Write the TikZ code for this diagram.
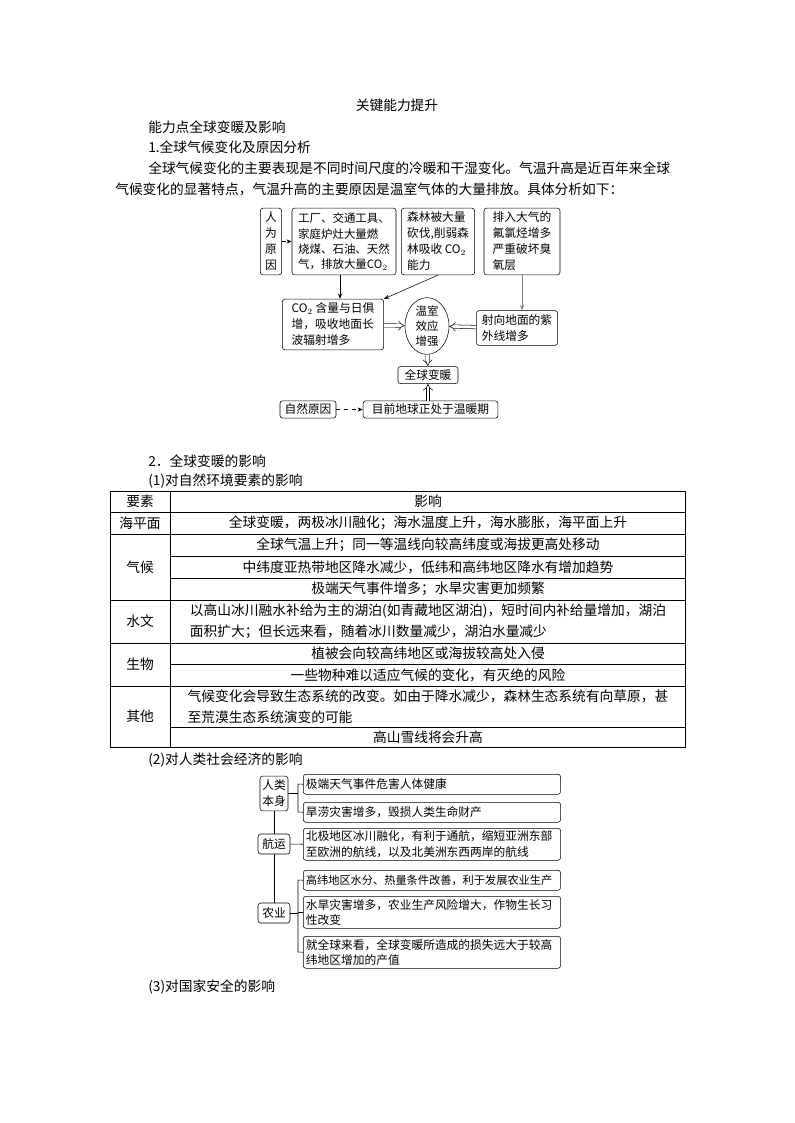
\documentclass[tikz,border=0pt]{standalone}
\usepackage{fontspec}
\setmainfont{Noto Sans CJK SC}
\usetikzlibrary{arrows.meta,shapes.geometric}
\begin{document}
\begin{tikzpicture}[x=0.75pt,y=-0.75pt,
 txt/.style={inner sep=0pt,font=\fontsize{10.3}{15}\selectfont},
 bx/.style={draw,rounded corners=2pt,inner sep=2pt,font=\fontsize{8.8}{12}\selectfont,align=left},
 sb/.style={draw,rounded corners=2pt,inner sep=2pt,font=\fontsize{8.8}{11.5}\selectfont,align=left,text width=189pt,anchor=north west},
 cell/.style={inner sep=0pt,font=\fontsize{10.3}{16}\selectfont,align=center},
 dbl/.style={double,double distance=2.2pt,-{Implies},thin},
 ar/.style={-{Stealth[length=4pt]},thin}]
\useasboundingbox (0,0) rectangle (794,1123);
\node[txt] (t0) at (397,105) {关键能力提升};
\node[txt,anchor=west] (t1) at (148,127) {能力点全球变暖及影响};
\node[txt,anchor=west] (t2) at (148,147) {1.全球气候变化及原因分析};
\node[txt,anchor=west] (t3) at (148,168) {全球气候变化的主要表现是不同时间尺度的冷暖和干湿变化。气温升高是近百年来全球};
\node[txt,anchor=west] (t4) at (115,189) {气候变化的显著特点，气温升高的主要原因是温室气体的大量排放。具体分析如下：};
% flowchart
\node[bx,minimum width=16pt,minimum height=50pt,align=center,inner sep=1pt] (rw) at (271,241.5) {人\\为\\原\\因};
\node[bx,minimum width=78pt,minimum height=50pt,font=\fontsize{8.6}{11.5}\selectfont] (gc) at (344,241.5) {工厂、交通工具、\\家庭炉灶大量燃\\烧煤、石油、天然\\气，排放大量CO$_2$};
\node[bx,minimum width=55pt,minimum height=50pt] (sl) at (438,241.5) {森林被大量\\砍伐,削弱森\\林吸收 CO$_2$\\能力};
\node[bx,minimum width=57pt,minimum height=50pt,anchor=center] (pr) at (522,241.5) {排入大气的\\氟氯烃增多\\严重破坏臭\\氧层};
\node[bx,minimum width=76pt,minimum height=38pt] (co) at (333,324.5) {CO$_2$ 含量与日俱\\增，吸收地面长\\波辐射增多};
\node[draw,ellipse,minimum width=33pt,minimum height=42pt,inner sep=0pt,align=center,font=\fontsize{8.6}{11}\selectfont] (wq) at (427,326) {温室\\效应\\增强};
\node[bx,minimum width=61pt,minimum height=26pt] (sx) at (517,328) {射向地面的紫\\外线增多};
\node[bx,minimum width=45pt,minimum height=13pt,inner sep=1pt] (qb) at (428,375) {全球变暖};
\node[bx,minimum width=42pt,minimum height=13pt,inner sep=1pt] (zr) at (308,409.5) {自然原因};
\node[bx,minimum width=101pt,minimum height=13pt,inner sep=1pt] (mq) at (430.5,409.5) {目前地球正处于温暖期};
\draw[ar,dashed] (rw) -- (gc);
\draw[ar,dashed] (zr) -- (mq);
\draw[ar] (gc.south -| 340,0) -- (co.north -| 340,0);
\draw[ar] (sl.south) -- (co.north east);
\draw[ar,gray] (pr.south) -- (sx.north -| pr.south);
\draw[dbl] (co) -- (wq);
\draw[dbl] (sx) -- (wq);
\draw[dbl] (wq) -- (qb);
\draw[dbl] (mq.north -| qb) -- (qb);
% section 2
\node[txt,anchor=west] (s2) at (148,461) {2．全球变暖的影响};
\node[txt,anchor=west] (s21) at (148,481) {(1)对自然环境要素的影响};
\draw[thin] (110,491) rectangle (685,747);
\foreach \y in {512,534,600,643,686} \draw[thin] (110,\y) -- (685,\y);
\foreach \y in {556,578,664,727} \draw[thin] (170,\y) -- (685,\y);
\draw[thin] (170,491) -- (170,747);
\node[cell] (h1) at (140,501.5) {要素};
\node[cell] (h2) at (428,501.5) {影响};
\node[cell] (a1) at (140,523) {海平面};
\node[cell] (a2) at (428,523) {全球变暖，两极冰川融化；海水温度上升，海水膨胀，海平面上升};
\node[cell] (b1) at (140,567) {气候};
\node[cell] (b2) at (428,545) {全球气温上升；同一等温线向较高纬度或海拔更高处移动};
\node[cell] (b3) at (428,567) {中纬度亚热带地区降水减少，低纬和高纬地区降水有增加趋势};
\node[cell] (b4) at (428,589) {极端天气事件增多；水旱灾害更加频繁};
\node[cell] (c1) at (140,621.5) {水文};
\node[cell,align=left] (c2) at (428,621.5) {以高山冰川融水补给为主的湖泊(如青藏地区湖泊)，短时间内补给量增加，湖泊\\面积扩大；但长远来看，随着冰川数量减少，湖泊水量减少};
\node[cell] (d1) at (140,664.5) {生物};
\node[cell] (d2) at (428,653.5) {植被会向较高纬地区或海拔较高处入侵};
\node[cell] (d3) at (428,675) {一些物种难以适应气候的变化，有灭绝的风险};
\node[cell] (e1) at (140,716.5) {其他};
\node[cell,align=left] (e2) at (428,706.5) {气候变化会导致生态系统的改变。如由于降水减少，森林生态系统有向草原，甚\\至荒漠生态系统演变的可能};
\node[cell] (e3) at (428,737) {高山雪线将会升高};
\node[txt,anchor=west] (s22) at (148,760) {(2)对人类社会经济的影响};
% bottom diagram
\node[bx,minimum width=21pt,minimum height=26pt,align=center,inner sep=1pt] (rl) at (274,793.5) {人类\\本身};
\node[bx,minimum width=24pt,minimum height=15pt,inner sep=1pt] (hy) at (274,844) {航运};
\node[bx,minimum width=24pt,minimum height=15pt,inner sep=1pt] (ny) at (274,913) {农业};
\node[sb,minimum height=15pt] (r1) at (303,774) {极端天气事件危害人体健康};
\node[sb,minimum height=15pt] (r2) at (303,802) {旱涝灾害增多，毁损人类生命财产};
\node[sb,minimum height=24pt] (r3) at (303,828) {北极地区冰川融化，有利于通航，缩短亚洲东部\\至欧洲的航线，以及北美洲东西两岸的航线};
\node[sb,minimum height=15pt,font=\fontsize{8.4}{11.5}\selectfont] (r4) at (303,870) {高纬地区水分、热量条件改善，利于发展农业生产};
\node[sb,minimum height=24pt] (r5) at (303,896) {水旱灾害增多，农业生产风险增大，作物生长习\\性改变};
\node[sb,minimum height=24pt] (r6) at (303,936) {就全球来看，全球变暖所造成的损失远大于较高\\纬地区增加的产值};
\coordinate (k1) at (298,784);
\coordinate (k2) at (298,812);
\coordinate (k4) at (298,880);
\coordinate (k6) at (298,952);
\draw[thin] (rl.south) -- (hy.north) (hy.south) -- (ny.north);
\draw[thin] (rl.east) -- (rl.east -| k1);
\draw[thin] (r1.west) -- (k1) -- (k2) -- (r2.west);
\draw[thin] (hy.east) -- (r3.west);
\draw[thin] (ny.east) -- (ny.east -| k4);
\draw[thin] (r4.west) -- (k4) -- (k6) -- (r6.west);
\draw[thin] (r5.west) -- (r5.west -| k4);
\node[txt,anchor=west] (s23) at (148,987) {(3)对国家安全的影响};
\end{tikzpicture}
\end{document}
